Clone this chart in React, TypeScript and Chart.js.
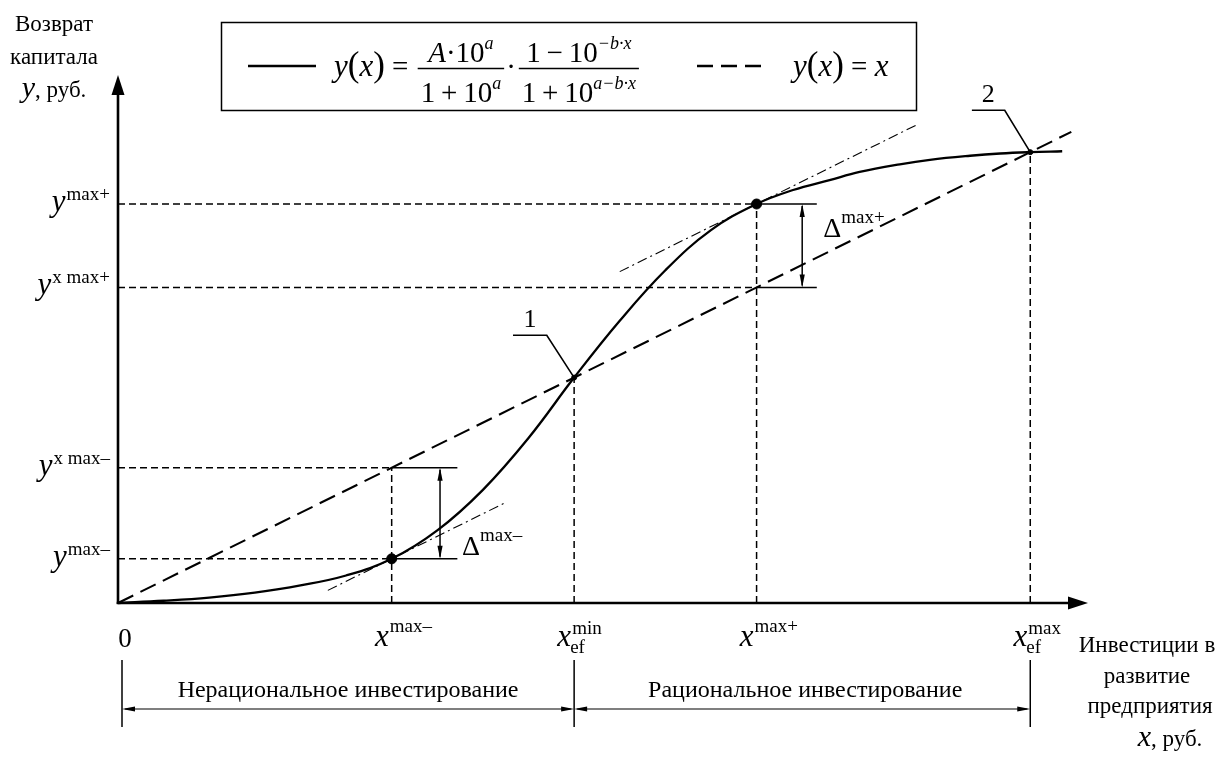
import React, { useEffect, useRef } from "react";
import { Chart, registerables } from "chart.js";

Chart.register(...registerables);

// ---- data ----
// S-shaped capital return curve y(x)
const curveX = [0, 5, 10, 15, 20, 25, 30, 35, 40, 45, 50, 55, 60, 65, 70, 74, 78, 81.3, 85.7, 89, 93.4, 96.7, 100, 103.5];
const curveY = [0, 0.5, 1.2, 2.3, 3.9, 6.1, 9.8, 16.1, 25.1, 36.6, 50, 62.6, 73.8, 82.7, 88.5, 91.6, 93.8, 95.6, 97.3, 98.3, 99.2, 99.7, 100, 100.2];
// line y = x
const diagX = [0, 104.5];
const diagY = [0, 104.5];
// tangent (dash-dot) lines
const tanLowX = [23.0, 42.6];
const tanLowY = [2.8, 22.4];
const tanHighX = [55.0, 87.6];
const tanHighY = [73.5, 106.1];
// characteristic values
const X_MAXM = 30;   // x^max-
const X_EFMIN = 50;  // x_ef^min
const X_MAXP = 70;   // x^max+
const X_EFMAX = 100; // x_ef^max
const Y_MAXM = 9.8;  // y^max-
const Y_XMAXM = 30;  // y^x max-
const Y_XMAXP = 70;  // y^x max+
const Y_MAXP = 88.5; // y^max+
// delta bracket extents
const DELTA_LOW_END = 37.2;
const DELTA_LOW_ARROW = 35.3;
const DELTA_HIGH_END = 76.6;
const DELTA_HIGH_ARROW = 75.0;
// leaders for labels 1 and 2
const lead1X = [43.3, 47.0, 50];
const lead1Y = [59.4, 59.4, 50];
const lead2X = [93.6, 97.2, 100];
const lead2Y = [109.3, 109.3, 100];

const X_MAX = 106;
const Y_MAX = 118;

const FONT = '"Liberation Serif", "Times New Roman", serif';

type Seg = { t: string; size: number; italic?: boolean; dy?: number; dx?: number };

function segFont(s: Seg) {
  return `${s.italic ? "italic " : ""}${s.size}px ${FONT}`;
}
function richWidth(ctx: CanvasRenderingContext2D, segs: Seg[]) {
  let w = 0;
  for (const s of segs) {
    ctx.font = segFont(s);
    w += ctx.measureText(s.t).width + (s.dx || 0);
  }
  return w;
}
function drawRich(ctx: CanvasRenderingContext2D, x: number, y: number, segs: Seg[], align: "left" | "right" | "center" = "left") {
  const w = richWidth(ctx, segs);
  let cx = align === "left" ? x : align === "right" ? x - w : x - w / 2;
  ctx.textAlign = "left";
  ctx.textBaseline = "alphabetic";
  for (const s of segs) {
    ctx.font = segFont(s);
    cx += s.dx || 0;
    ctx.fillText(s.t, cx, y + (s.dy || 0));
    cx += ctx.measureText(s.t).width;
  }
  return cx;
}
function arrowHead(ctx: CanvasRenderingContext2D, tx: number, ty: number, dirx: number, diry: number, len: number, hw: number) {
  const bx = tx - dirx * len;
  const by = ty - diry * len;
  const px = -diry, py = dirx;
  ctx.beginPath();
  ctx.moveTo(tx, ty);
  ctx.lineTo(bx + px * hw, by + py * hw);
  ctx.lineTo(bx - px * hw, by - py * hw);
  ctx.closePath();
  ctx.fill();
}
function line(ctx: CanvasRenderingContext2D, x1: number, y1: number, x2: number, y2: number, w: number) {
  ctx.lineWidth = w;
  ctx.beginPath();
  ctx.moveTo(x1, y1);
  ctx.lineTo(x2, y2);
  ctx.stroke();
}

function pts(xs: number[], ys: number[]) {
  return xs.map((x, i) => ({ x, y: ys[i] }));
}

const overlayPlugin = {
  id: "overlay",
  beforeDatasetsDraw(chart: any) {
    const ctx: CanvasRenderingContext2D = chart.ctx;
    const xs = chart.scales.x;
    const ys = chart.scales.y;
    const x0 = xs.getPixelForValue(0);
    const y0 = ys.getPixelForValue(0);
    ctx.save();
    ctx.strokeStyle = "#000";
    ctx.fillStyle = "#000";
    ctx.setLineDash([]);
    const yTip = ys.getPixelForValue(117.1);
    line(ctx, x0, y0 + 1, x0, yTip + 14, 2.6);
    arrowHead(ctx, x0, yTip, 0, -1, 20, 6.5);
    const xTip = xs.getPixelForValue(X_MAX) + 3;
    line(ctx, x0 - 1.3, y0, xTip - 14, y0, 2.6);
    arrowHead(ctx, xTip, y0, 1, 0, 20, 6.5);
    ctx.restore();
  },
  afterDatasetsDraw(chart: any) {
    const ctx: CanvasRenderingContext2D = chart.ctx;
    const xs = chart.scales.x;
    const ys = chart.scales.y;
    const px = (v: number) => xs.getPixelForValue(v);
    const py = (v: number) => ys.getPixelForValue(v);
    const x0 = px(0);
    const y0 = py(0);
    ctx.save();
    ctx.strokeStyle = "#000";
    ctx.fillStyle = "#000";
    ctx.setLineDash([]);

    // delta double arrows
    const dArrow = (xv: number, ya: number, yb: number) => {
      const X = px(xv), A = py(ya), B = py(yb);
      line(ctx, X, A + 2, X, B - 2, 1.5);
      arrowHead(ctx, X, A, 0, -1, 13, 2.6);
      arrowHead(ctx, X, B, 0, 1, 13, 2.6);
    };
    dArrow(DELTA_LOW_ARROW, Y_XMAXM, Y_MAXM);
    dArrow(DELTA_HIGH_ARROW, Y_MAXP, Y_XMAXP);

    ctx.textBaseline = "alphabetic";
    drawRich(ctx, px(DELTA_LOW_ARROW) + 22, py(Y_MAXM) - 4, [
      { t: "\u0394", size: 28 },
      { t: "max\u2013", size: 19, dy: -14 },
    ]);
    drawRich(ctx, px(DELTA_HIGH_ARROW) + 21, py(Y_MAXP) + 33, [
      { t: "\u0394", size: 28 },
      { t: "max+", size: 19, dy: -14 },
    ]);

    // labels 1 and 2
    ctx.font = `26px ${FONT}`;
    ctx.textAlign = "center";
    ctx.fillText("1", (px(lead1X[0]) + px(lead1X[1])) / 2, py(lead1Y[0]) - 8);
    ctx.fillText("2", (px(lead2X[0]) + px(lead2X[1])) / 2, py(lead2Y[0]) - 8);

    // y tick labels
    const yLab = (v: number, sup: string) => {
      const Y = py(v);
      drawRich(ctx, x0 - 8, Y + 7, [
        { t: "y", size: 31, italic: true },
        { t: sup, size: 19, dy: -11, dx: 1 },
      ], "right");
    };
    yLab(Y_MAXP, "max+");
    yLab(Y_XMAXP, "x max+");
    yLab(Y_XMAXM, "x max\u2013");
    yLab(Y_MAXM, "max\u2013");

    // x tick labels
    const xb = y0 + 43;
    ctx.font = `27px ${FONT}`;
    ctx.textAlign = "center";
    ctx.fillText("0", x0 + 7, y0 + 44);
    const xLab = (v: number, sup: string, sub?: string) => {
      const X = px(v);
      ctx.font = `italic 31px ${FONT}`;
      const w = ctx.measureText("x").width;
      ctx.textAlign = "left";
      const sx = X - 3 - w;
      ctx.fillText("x", sx, xb);
      ctx.font = `19px ${FONT}`;
      ctx.fillText(sup, sx + w + 1, xb - (sub ? 12 : 14));
      if (sub) ctx.fillText(sub, sx + w - 1, xb + 7);
    };
    xLab(X_MAXM, "max\u2013");
    xLab(X_EFMIN, "min", "ef");
    xLab(X_MAXP, "max+");
    xLab(X_EFMAX, "max", "ef");

    // bottom brackets
    const bTop = y0 + 57, bBot = y0 + 124, bArr = y0 + 106;
    const bx = [x0 + 4, px(X_EFMIN), px(X_EFMAX)];
    for (const X of bx) line(ctx, X, bTop, X, bBot, 1.5);
    const hArrow = (a: number, b: number) => {
      line(ctx, a + 3, bArr, b - 3, bArr, 1.2);
      arrowHead(ctx, a, bArr, -1, 0, 13, 2.6);
      arrowHead(ctx, b, bArr, 1, 0, 13, 2.6);
    };
    hArrow(bx[0], bx[1]);
    hArrow(bx[1], bx[2]);
    ctx.font = `24px ${FONT}`;
    ctx.textAlign = "center";
    ctx.fillText("Нерациональное инвестирование", (bx[0] + bx[1]) / 2, bArr - 12);
    ctx.fillText("Рациональное инвестирование", (bx[1] + bx[2]) / 2 + 3, bArr - 12);

    // axis titles
    ctx.font = `23px ${FONT}`;
    ctx.textAlign = "center";
    ctx.fillText("Возврат", 54, 31);
    ctx.fillText("капитала", 54, 64);
    drawRich(ctx, 54, 97, [
      { t: "y", size: 30, italic: true },
      { t: ", руб.", size: 23 },
    ], "center");

    ctx.textAlign = "center";
    ctx.font = `23px ${FONT}`;
    ctx.fillText("Инвестиции в", 1147, 652);
    ctx.fillText("развитие", 1147, 683);
    ctx.fillText("предприятия", 1150, 713);
    drawRich(ctx, 1170, 746, [
      { t: "x", size: 30, italic: true },
      { t: ", руб.", size: 23 },
    ], "center");

    // legend box
    ctx.lineWidth = 1.5;
    ctx.strokeRect(221.5, 22.5, 695, 88);
    line(ctx, 248, 66, 316, 66, 2.5);
    ctx.setLineDash([16, 8]);
    line(ctx, 697, 66, 761, 66, 2.5);
    ctx.setLineDash([]);

    const eqSegs: Seg[] = [
      { t: "y", size: 31, italic: true },
      { t: "(", size: 35 },
      { t: "x", size: 31, italic: true },
      { t: ")", size: 35 },
      { t: " = ", size: 29 },
    ];
    let cx = drawRich(ctx, 334, 76, eqSegs);
    const frac = (left: number, num: Seg[], den: Seg[]) => {
      const wn = richWidth(ctx, num);
      const wd = richWidth(ctx, den);
      const w = Math.max(wn, wd) + 6;
      const c = left + w / 2;
      drawRich(ctx, c, 62, num, "center");
      drawRich(ctx, c, 102, den, "center");
      line(ctx, left, 68.5, left + w, 68.5, 1.3);
      return left + w;
    };
    cx = frac(cx + 2, [
      { t: "A", size: 29, italic: true },
      { t: "\u00b710", size: 29 },
      { t: "a", size: 18, italic: true, dy: -13 },
    ], [
      { t: "1\u2009+\u200910", size: 29 },
      { t: "a", size: 18, italic: true, dy: -13 },
    ]);
    cx = drawRich(ctx, cx + 2, 76, [{ t: "\u00b7", size: 29 }]);
    frac(cx + 3, [
      { t: "1\u2009\u2212\u200910", size: 29 },
      { t: "\u2212b\u00b7x", size: 18, italic: true, dy: -13 },
    ], [
      { t: "1\u2009+\u200910", size: 29 },
      { t: "a\u2212b\u00b7x", size: 18, italic: true, dy: -13 },
    ]);
    drawRich(ctx, 793, 76, [
      { t: "y", size: 31, italic: true },
      { t: "(", size: 35 },
      { t: "x", size: 31, italic: true },
      { t: ")", size: 35 },
      { t: " = ", size: 29 },
      { t: "x", size: 31, italic: true },
    ]);

    ctx.restore();
  },
};

export default function App() {
  const ref = useRef<HTMLCanvasElement | null>(null);
  useEffect(() => {
    if (!ref.current) return;
    const solid = (data: any[], w = 1.5) => ({
      type: "scatter" as const,
      data,
      showLine: true,
      borderColor: "#000",
      borderWidth: w,
      pointRadius: 0,
      fill: false,
      clip: false as any,
    });
    const dashed = (data: any[], dash: number[], w: number) => ({
      ...solid(data, w),
      borderDash: dash,
    });
    const guide = [7, 4];
    const chart = new Chart(ref.current, {
      type: "scatter",
      data: {
        datasets: [
          dashed([{ x: 0, y: Y_MAXM }, { x: X_MAXM, y: Y_MAXM }], guide, 1.5),
          dashed([{ x: 0, y: Y_XMAXM }, { x: X_MAXM, y: Y_XMAXM }], guide, 1.5),
          dashed([{ x: 0, y: Y_XMAXP }, { x: X_MAXP, y: Y_XMAXP }], guide, 1.5),
          dashed([{ x: 0, y: Y_MAXP }, { x: X_MAXP, y: Y_MAXP }], guide, 1.5),
          dashed([{ x: X_MAXM, y: 0 }, { x: X_MAXM, y: Y_XMAXM }], guide, 1.5),
          dashed([{ x: X_EFMIN, y: 0 }, { x: X_EFMIN, y: X_EFMIN }], guide, 1.5),
          dashed([{ x: X_MAXP, y: 0 }, { x: X_MAXP, y: Y_MAXP }], guide, 1.5),
          dashed([{ x: X_EFMAX, y: 0 }, { x: X_EFMAX, y: X_EFMAX }], guide, 1.5),
          dashed(pts(tanLowX, tanLowY), [10, 4, 2, 4], 1.1),
          dashed(pts(tanHighX, tanHighY), [10, 4, 2, 4], 1.1),
          dashed(pts(diagX, diagY), [17, 8], 2.1),
          solid([{ x: X_MAXM, y: Y_XMAXM }, { x: DELTA_LOW_END, y: Y_XMAXM }]),
          solid([{ x: X_MAXM, y: Y_MAXM }, { x: DELTA_LOW_END, y: Y_MAXM }]),
          solid([{ x: X_MAXP, y: Y_MAXP }, { x: DELTA_HIGH_END, y: Y_MAXP }]),
          solid([{ x: X_MAXP, y: Y_XMAXP }, { x: DELTA_HIGH_END, y: Y_XMAXP }]),
          solid(pts(lead1X, lead1Y), 1.6),
          solid(pts(lead2X, lead2Y), 1.6),
          {
            ...solid(pts(curveX, curveY), 2.3),
            tension: 0.4,
          } as any,
          {
            type: "scatter",
            data: [{ x: X_MAXM, y: Y_MAXM }, { x: X_MAXP, y: Y_MAXP }],
            pointRadius: 5,
            pointBackgroundColor: "#000",
            pointBorderColor: "#000",
            clip: false,
          } as any,
          {
            type: "scatter",
            data: [{ x: X_EFMIN, y: X_EFMIN }, { x: X_EFMAX, y: X_EFMAX }],
            pointRadius: 2.5,
            pointBackgroundColor: "#000",
            pointBorderColor: "#000",
            clip: false,
          } as any,
        ],
      },
      options: {
        animation: false,
        responsive: false,
        events: [],
        layout: { padding: { left: 118, right: 1227 - 1085, top: 71, bottom: 157 } },
        plugins: { legend: { display: false }, tooltip: { enabled: false } },
        scales: {
          x: { type: "linear", min: 0, max: X_MAX, display: false },
          y: { type: "linear", min: 0, max: Y_MAX, display: false },
        },
      },
      plugins: [overlayPlugin],
    } as any);
    return () => chart.destroy();
  }, []);
  return (
    <div style={{ position: "absolute", left: 0, top: 0, width: 1227, height: 760, background: "#fff" }}>
      <canvas ref={ref} width={1227} height={760} style={{ display: "block", width: 1227, height: 760 }} />
    </div>
  );
}
